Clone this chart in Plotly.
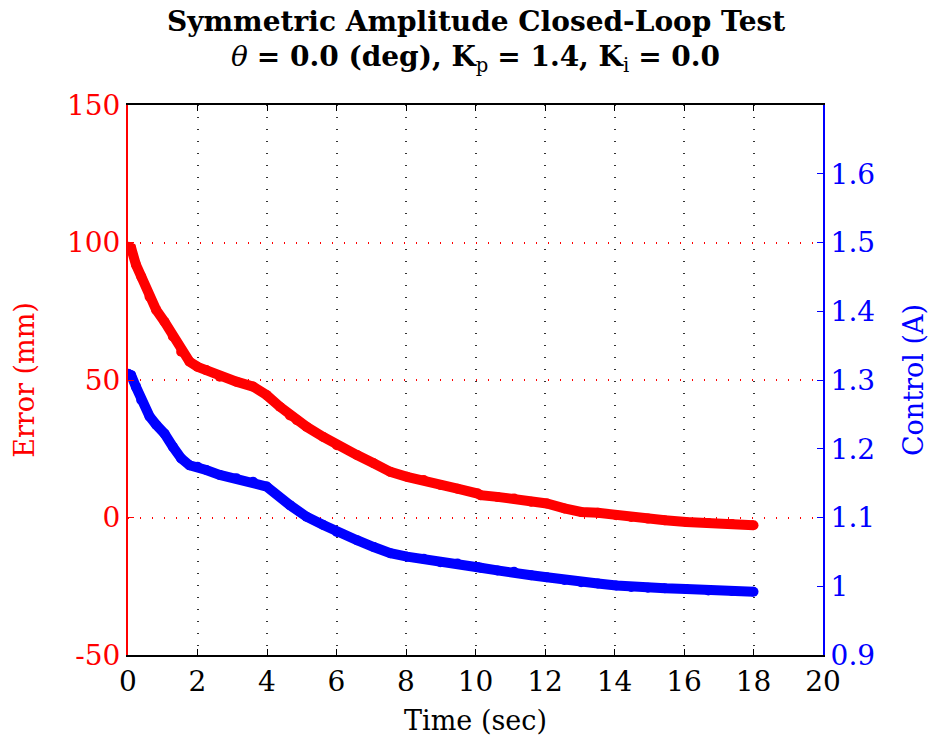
import plotly.graph_objects as go

# Time samples (sec)
time_err = [0.0, 0.09, 0.23, 0.38, 0.62, 0.81, 1.05, 1.29, 1.53, 1.77, 2.0, 2.25, 2.64, 3.12, 3.6, 3.99,
            4.37, 4.66, 4.86, 5.14, 5.62, 6.01, 6.59, 7.07, 7.55, 8.03, 8.51, 8.99, 9.48, 10.06,
            10.15, 10.63, 11.11, 11.6, 12.05, 12.56, 13.04, 13.52, 14.05, 14.48, 14.96, 15.45,
            16.06, 16.7, 17.38, 18.0]
# Error (mm)
error_mm = [98.5, 98.0, 91.9, 87.6, 80.3, 75.5, 71.2, 65.8, 60.3, 56.7, 54.8, 53.6, 51.2, 49.4, 47.6, 44.5,
            40.3, 37.1, 35.4, 33.0, 29.3, 26.3, 22.7, 19.7, 16.6, 14.8, 13.6, 11.8, 10.5, 8.7,
            8.1, 7.5, 6.9, 5.7, 5.1, 3.3, 2.0, 1.7, 0.8, 0.2, -0.4, -1.0,
            -1.6, -2.0, -2.4, -2.8]

time_ctl = [0.0, 0.09, 0.23, 0.38, 0.62, 0.81, 1.05, 1.29, 1.53, 1.77, 2.0, 2.25, 2.64, 3.12, 3.6, 3.99,
            4.66, 5.14, 5.62, 6.01, 6.59, 7.07, 7.55, 8.03, 8.51, 8.99, 9.48, 10.06,
            10.15, 10.63, 11.11, 11.6, 12.05, 12.56, 13.04, 13.52, 14.05, 14.48, 14.96, 15.45,
            16.06, 16.7, 17.38, 18.0]
# Control (A)
control_a = [1.309, 1.307, 1.290, 1.271, 1.247, 1.235, 1.222, 1.203, 1.186, 1.176, 1.174, 1.169, 1.162, 1.157,
             1.152, 1.145, 1.118, 1.101, 1.089, 1.079, 1.067, 1.057, 1.048, 1.043, 1.040, 1.035, 1.033, 1.028,
             1.027, 1.023, 1.021, 1.016, 1.013, 1.009, 1.006, 1.004, 1.001, 0.999, 0.998, 0.997,
             0.996, 0.994, 0.993, 0.992]

x_ticks = list(range(0, 21, 2))
err_ticks = [-50, 0, 50, 100, 150]
err_tick_text = ["-50", "0", "50", "100", "150"]
ctl_ticks = [0.9, 1.0, 1.1, 1.2, 1.3, 1.4, 1.5, 1.6]
ctl_tick_text = ["0.9", "1", "1.1", "1.2", "1.3", "1.4", "1.5", "1.6"]

title_line1 = "Symmetric Amplitude Closed-Loop Test"
title_line2 = "<i>θ</i> <b>= 0.0 (deg), K</b><sub>p</sub> <b>= 1.4, K</b><sub>i</sub> <b>= 0.0</b>"

FONT = "DejaVu Serif"
FS_TICK = 28
FS_LABEL = 27
FS_TITLE = 28
GRID_DASH = "1px,11px"

fig = go.Figure()
fig.add_trace(go.Scatter(x=time_err, y=error_mm, mode="lines+markers",
                         line=dict(color="#ff0000", width=10),
                         marker=dict(color="#ff0000", size=10),
                         showlegend=False, yaxis="y"))
fig.add_trace(go.Scatter(x=time_ctl, y=control_a, mode="lines+markers",
                         line=dict(color="#0000ff", width=10),
                         marker=dict(color="#0000ff", size=10),
                         showlegend=False, yaxis="y2"))

fig.add_annotation(text="<b>" + title_line1 + "</b>", xref="paper", yref="paper",
                   x=0.5, y=1.0 + (105 - 3) / 550, xanchor="center", yanchor="top",
                   showarrow=False, font=dict(family=FONT, size=FS_TITLE, color="black"))
fig.add_annotation(text=title_line2, xref="paper", yref="paper",
                   x=0.5, y=1.0 + (105 - 38) / 550, xanchor="center", yanchor="top",
                   showarrow=False, font=dict(family=FONT, size=FS_TITLE, color="black"))

fig.update_layout(
    width=932, height=743,
    margin=dict(l=128, r=109, t=105, b=88, autoexpand=False),
    paper_bgcolor="white", plot_bgcolor="white",
    font=dict(family=FONT, size=FS_TICK, color="black"),
    xaxis=dict(
        range=[0, 20], tickvals=x_ticks, ticks="inside", ticklen=6, tickcolor="black",
        showline=True, linecolor="black", linewidth=2, mirror="ticks",
        showgrid=True, gridcolor="#333333", griddash=GRID_DASH, gridwidth=1.5,
        zeroline=False,
        tickfont=dict(family=FONT, size=FS_TICK, color="black"),
        title=dict(text="Time (sec)", font=dict(family=FONT, size=FS_LABEL, color="black"), standoff=15),
    ),
    yaxis=dict(
        range=[-50, 150], tickvals=err_ticks, ticktext=err_tick_text,
        ticks="inside", ticklen=6, tickcolor="#ff0000",
        showline=True, linecolor="#ff0000", linewidth=2,
        showgrid=True, gridcolor="#ff0000", griddash=GRID_DASH, gridwidth=1.5,
        zeroline=False,
        tickfont=dict(family=FONT, size=FS_TICK, color="#ff0000"),
        title=dict(text="Error (mm)", font=dict(family=FONT, size=FS_LABEL, color="#ff0000"), standoff=24),
    ),
    yaxis2=dict(
        range=[0.9, 1.7], tickvals=ctl_ticks, ticktext=ctl_tick_text, overlaying="y", side="right",
        ticks="inside", ticklen=6, tickcolor="#0000ff",
        showline=True, linecolor="#0000ff", linewidth=2,
        showgrid=False, zeroline=False,
        tickfont=dict(family=FONT, size=FS_TICK, color="#0000ff"),
        title=dict(text="Control (A)", font=dict(family=FONT, size=FS_LABEL, color="#0000ff"), standoff=30),
    ),
)

fig.write_html("out.html")
